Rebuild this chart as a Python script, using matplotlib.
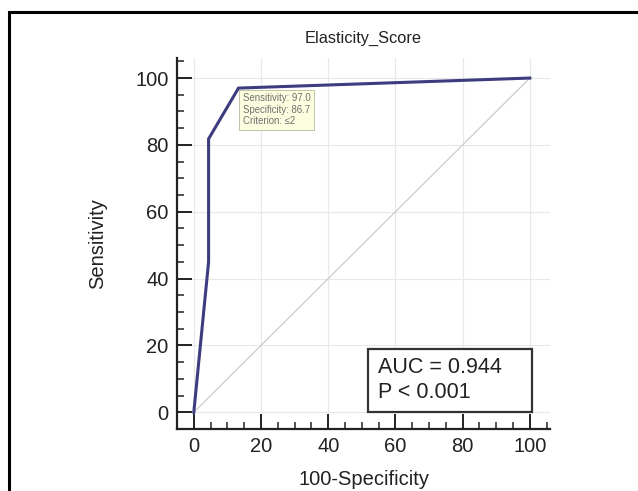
import matplotlib
matplotlib.use("Agg")
import matplotlib.pyplot as plt
from matplotlib.patches import Rectangle
from matplotlib.ticker import MultipleLocator

# Data
fpr = [0, 4.4, 4.4, 13.3, 100]          # 100-Specificity
tpr = [0, 45.0, 81.8, 97.0, 100]        # Sensitivity
diag = [0, 100]
ticks = [0, 20, 40, 60, 80, 100]
title = "Elasticity_Score"
xlabel = "100-Specificity"
ylabel = "Sensitivity"
auc_lines = ["AUC = 0.944", "P < 0.001"]
tip_text = "Sensitivity: 97.0\nSpecificity: 86.7\nCriterion: \u22642"
tip_pt = (13.3, 97.0)

plt.rcParams['font.family'] = ['Liberation Sans', 'DejaVu Sans']

fig = plt.figure(figsize=(6.38, 4.91), dpi=100)
ax = fig.add_axes([177/638, 1-429/491, (550-177)/638, (429-58)/491])

# outer frame
fig.patches.append(Rectangle((9/638, -0.1), 1.2, (491-12)/491 + 0.1,
                             transform=fig.transFigure, fill=False,
                             edgecolor='black', linewidth=2.2))

ax.set_xlim(-5, 106)
ax.set_ylim(-5, 106)
ax.set_xticks(ticks)
ax.set_yticks(ticks)
ax.xaxis.set_minor_locator(MultipleLocator(5))
ax.yaxis.set_minor_locator(MultipleLocator(5))
ax.grid(True, which='major', color='#e8e8e8', linewidth=0.8)
ax.set_axisbelow(True)

for s in ['top', 'right']:
    ax.spines[s].set_visible(False)
for s in ['left', 'bottom']:
    ax.spines[s].set_linewidth(1.6)
    ax.spines[s].set_color('#222222')

ax.tick_params(which='major', direction='in', length=11, width=1.4,
               labelsize=14.5, pad=6, colors='#222222')
ax.tick_params(which='minor', direction='in', length=5, width=1.1,
               colors='#222222')

ax.plot(diag, diag, color='#cccccc', linewidth=0.9, zorder=2)
ax.plot(fpr, tpr, color='#3c3c7e', linewidth=2.2, zorder=3,
        solid_joinstyle='miter')

ax.set_title(title, fontsize=11.8, pad=11, color='#222222')
ax.set_xlabel(xlabel, fontsize=14.5, labelpad=10, color='#222222')
ax.set_ylabel(ylabel, fontsize=14.5, labelpad=20, color='#222222')

# AUC box
ax.add_patch(Rectangle((51.8, 0.0), 48.8, 19.0, facecolor='white',
                       edgecolor='#333333', linewidth=1.6, zorder=5))
ax.text(54.8, 13.4, auc_lines[0], fontsize=15.5, va='center', ha='left',
        color='#222222', zorder=6)
ax.text(54.8, 6.0, auc_lines[1], fontsize=15.5, va='center', ha='left',
        color='#222222', zorder=6)

ax.text(tip_pt[0] + 1.2, tip_pt[1] - 1.5, tip_text, fontsize=6.9,
        va='top', ha='left', color='#707070', linespacing=1.2,
        bbox=dict(boxstyle='square,pad=0.35', facecolor='#fdfde0',
                  edgecolor='#b8b898', linewidth=0.6), zorder=6)

fig.savefig("out.png", dpi=100)
